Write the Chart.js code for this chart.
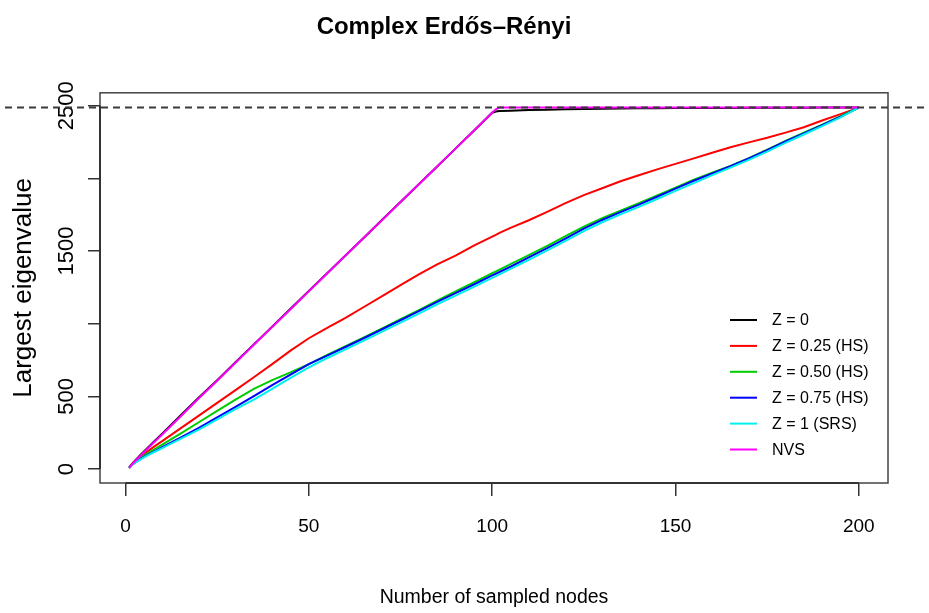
<!DOCTYPE html>
<html>
<head>
<meta charset="utf-8">
<title>Complex Erdős–Rényi</title>
<script src="https://cdn.jsdelivr.net/npm/chart.js@4.4.0/dist/chart.umd.min.js"></script>
<style>
  html, body { margin: 0; padding: 0; background: #fff; }
</style>
</head>
<body>
<canvas id="chart" width="929" height="613"></canvas>
<script>
// Chart text
const chartTitle = 'Complex Erdős–Rényi';
const xTitle = 'Number of sampled nodes';
const yTitle = 'Largest eigenvalue';

// Number of sampled nodes (shared x values for every series)
const nodes = [1, 2, 4, 6, 8, 10, 15, 20, 25, 30, 35, 40, 45, 50, 55, 60, 65, 70, 75, 80, 85, 90, 95, 100,
  101, 102, 105, 110, 115, 120, 125, 130, 135, 140, 145, 150, 155, 160, 165, 170, 175, 180, 185, 190, 195, 200];

// Largest eigenvalue per strategy
const z0 = [12, 42, 95, 145, 195, 243, 368, 492, 612, 735, 858, 980, 1103, 1226, 1348, 1470, 1592, 1715, 1838, 1960, 2082, 2205, 2328, 2452,
  2460, 2463, 2466, 2470, 2473, 2476, 2478, 2480, 2481, 2482, 2483, 2484, 2484, 2485, 2485, 2486, 2486, 2486, 2486, 2487, 2487, 2487];
const z025 = [8, 40, 85, 122, 158, 192, 280, 368, 455, 543, 632, 722, 815, 900, 972, 1040, 1115, 1190, 1265, 1340, 1408, 1468, 1538, 1600,
  1612, 1625, 1660, 1712, 1770, 1830, 1885, 1932, 1980, 2022, 2062, 2100, 2138, 2176, 2214, 2248, 2280, 2315, 2352, 2398, 2442, 2487];
const z050 = [8, 36, 74, 108, 138, 168, 244, 322, 400, 478, 552, 612, 665, 722, 785, 846, 906, 968, 1032, 1094, 1158, 1222, 1285, 1348,
  1360, 1373, 1410, 1472, 1536, 1602, 1668, 1726, 1778, 1830, 1882, 1936, 1992, 2040, 2086, 2140, 2198, 2258, 2314, 2370, 2428, 2487];
const z075 = [8, 34, 68, 98, 124, 150, 216, 284, 355, 428, 502, 578, 650, 722, 780, 840, 900, 962, 1024, 1086, 1150, 1210, 1270, 1332,
  1344, 1356, 1392, 1456, 1520, 1586, 1654, 1714, 1768, 1820, 1874, 1930, 1984, 2034, 2084, 2138, 2194, 2254, 2310, 2366, 2424, 2487];
const z1 = [8, 33, 65, 94, 119, 144, 207, 272, 342, 412, 478, 552, 628, 700, 764, 824, 884, 945, 1008, 1070, 1134, 1194, 1254, 1316,
  1328, 1340, 1378, 1440, 1504, 1570, 1638, 1698, 1752, 1804, 1858, 1914, 1968, 2022, 2074, 2128, 2184, 2244, 2302, 2360, 2420, 2487];
const nvs = [8, 38, 90, 140, 190, 238, 362, 487, 608, 731, 855, 977, 1100, 1224, 1346, 1469, 1591, 1714, 1837, 1960, 2082, 2205, 2328, 2452,
  2476, 2487, 2487, 2487, 2487, 2487, 2487, 2487, 2487, 2487, 2487, 2487, 2487, 2487, 2487, 2487, 2487, 2487, 2487, 2487, 2487, 2487];

// Reference level (dashed line) and axis ticks
const maxEigenvalue = 2487;
const xTicks = [0, 50, 100, 150, 200];
const yTicks = [0, 500, 1000, 1500, 2000, 2500];
const yTickLabels = [0, 500, 1500, 2500]; // R drops the ones that would overlap

const seriesLabels = ['Z = 0', 'Z = 0.25 (HS)', 'Z = 0.50 (HS)', 'Z = 0.75 (HS)', 'Z = 1 (SRS)', 'NVS'];
const seriesValues = [z0, z025, z050, z075, z1, nvs];
const seriesColors = ['#000000', '#ff0000', '#00cd00', '#0000ff', '#00f0f0', '#ff00ff'];

const fontFamily = "'Liberation Sans', Arial, sans-serif";

// Draws the R-style box, axis lines, inset legend and dashed reference line
const rPlotExtras = {
  id: 'rPlotExtras',
  afterDatasetsDraw(chart) {
    const { ctx, chartArea: area } = chart;
    const xs = chart.scales.x;
    const ys = chart.scales.y;
    ctx.save();

    // plot box
    ctx.strokeStyle = '#444';
    ctx.lineWidth = 1.5;
    ctx.strokeRect(area.left, area.top, area.right - area.left, area.bottom - area.top);

    // axis lines only span the tick range
    ctx.strokeStyle = '#222';
    ctx.beginPath();
    ctx.moveTo(xs.getPixelForValue(xTicks[0]), area.bottom);
    ctx.lineTo(xs.getPixelForValue(xTicks[xTicks.length - 1]), area.bottom);
    ctx.moveTo(area.left, ys.getPixelForValue(yTicks[0]));
    ctx.lineTo(area.left, ys.getPixelForValue(yTicks[yTicks.length - 1]));
    ctx.stroke();

    // legend inside the plot, bottom right, no frame
    const legendX = area.right - 158;
    const legendTop = area.bottom - 163;
    const rowGap = 25.9;
    ctx.font = '16px ' + fontFamily;
    ctx.textBaseline = 'middle';
    ctx.textAlign = 'left';
    chart.data.datasets.forEach((ds, i) => {
      const y = legendTop + i * rowGap;
      ctx.strokeStyle = ds.borderColor;
      ctx.lineWidth = 2;
      ctx.beginPath();
      ctx.moveTo(legendX, y);
      ctx.lineTo(legendX + 27, y);
      ctx.stroke();
      ctx.fillStyle = '#000';
      ctx.fillText(ds.label, legendX + 42, y + 1);
    });
    ctx.restore();
  },
  afterDraw(chart) {
    const { ctx } = chart;
    const y = chart.scales.y.getPixelForValue(maxEigenvalue);
    ctx.save();
    ctx.strokeStyle = '#3a3a3a';
    ctx.lineWidth = 2;
    ctx.setLineDash([7, 5]);
    ctx.beginPath();
    ctx.moveTo(5, y);
    ctx.lineTo(chart.width, y);
    ctx.stroke();
    ctx.restore();
  }
};

document.addEventListener('DOMContentLoaded', () => {
  const ctx = document.getElementById('chart').getContext('2d');

  const datasets = seriesLabels.map((label, i) => ({
    label: label,
    data: nodes.map((n, j) => ({ x: n, y: seriesValues[i][j] })),
    borderColor: seriesColors[i],
    borderWidth: 2,
    pointRadius: 0,
    tension: 0,
    fill: false,
    order: seriesLabels.length - i // later series drawn on top, like R
  }));

  new Chart(ctx, {
    type: 'line',
    data: { datasets: datasets },
    plugins: [rPlotExtras],
    options: {
      responsive: false,
      animation: false,
      devicePixelRatio: 1,
      layout: { padding: { left: 0, right: 41, top: 0, bottom: 0 } },
      plugins: {
        legend: { display: false },
        tooltip: { enabled: false },
        title: {
          display: true,
          text: chartTitle,
          color: '#000',
          font: { family: fontFamily, size: 24, weight: 'bold' },
          padding: { top: 13, bottom: 51 }
        }
      },
      scales: {
        x: {
          type: 'linear',
          min: -6.96,
          max: 207.96,
          afterBuildTicks: (scale) => { scale.ticks = xTicks.map(v => ({ value: v })); },
          afterFit: (scale) => { scale.height = 130; },
          grid: { drawOnChartArea: false, drawTicks: true, tickLength: 13, color: '#333', lineWidth: 1.5 },
          border: { display: false },
          ticks: {
            autoSkip: false,
            maxRotation: 0,
            padding: 19,
            color: '#000',
            font: { family: fontFamily, size: 19 },
            callback: (v) => String(v)
          },
          title: {
            display: true,
            text: xTitle,
            color: '#000',
            font: { family: fontFamily, size: 19.5 },
            padding: { top: 0, bottom: 4 }
          }
        },
        y: {
          type: 'linear',
          min: -96,
          max: 2589,
          afterBuildTicks: (scale) => { scale.ticks = yTicks.map(v => ({ value: v })); },
          afterFit: (scale) => { scale.width = 100; },
          grid: { drawOnChartArea: false, drawTicks: true, tickLength: 12, color: '#333', lineWidth: 1.5 },
          border: { display: false },
          ticks: {
            autoSkip: false,
            minRotation: 90,
            maxRotation: 90,
            crossAlign: 'center',
            padding: -3.5,
            color: '#000',
            font: { family: fontFamily, size: 22 },
            callback: (v) => (yTickLabels.includes(v) ? String(v) : '')
          },
          title: {
            display: true,
            text: yTitle,
            color: '#000',
            font: { family: fontFamily, size: 26 },
            padding: { top: 8, bottom: 0 }
          }
        }
      }
    }
  });
});
</script>
</body>
</html>
